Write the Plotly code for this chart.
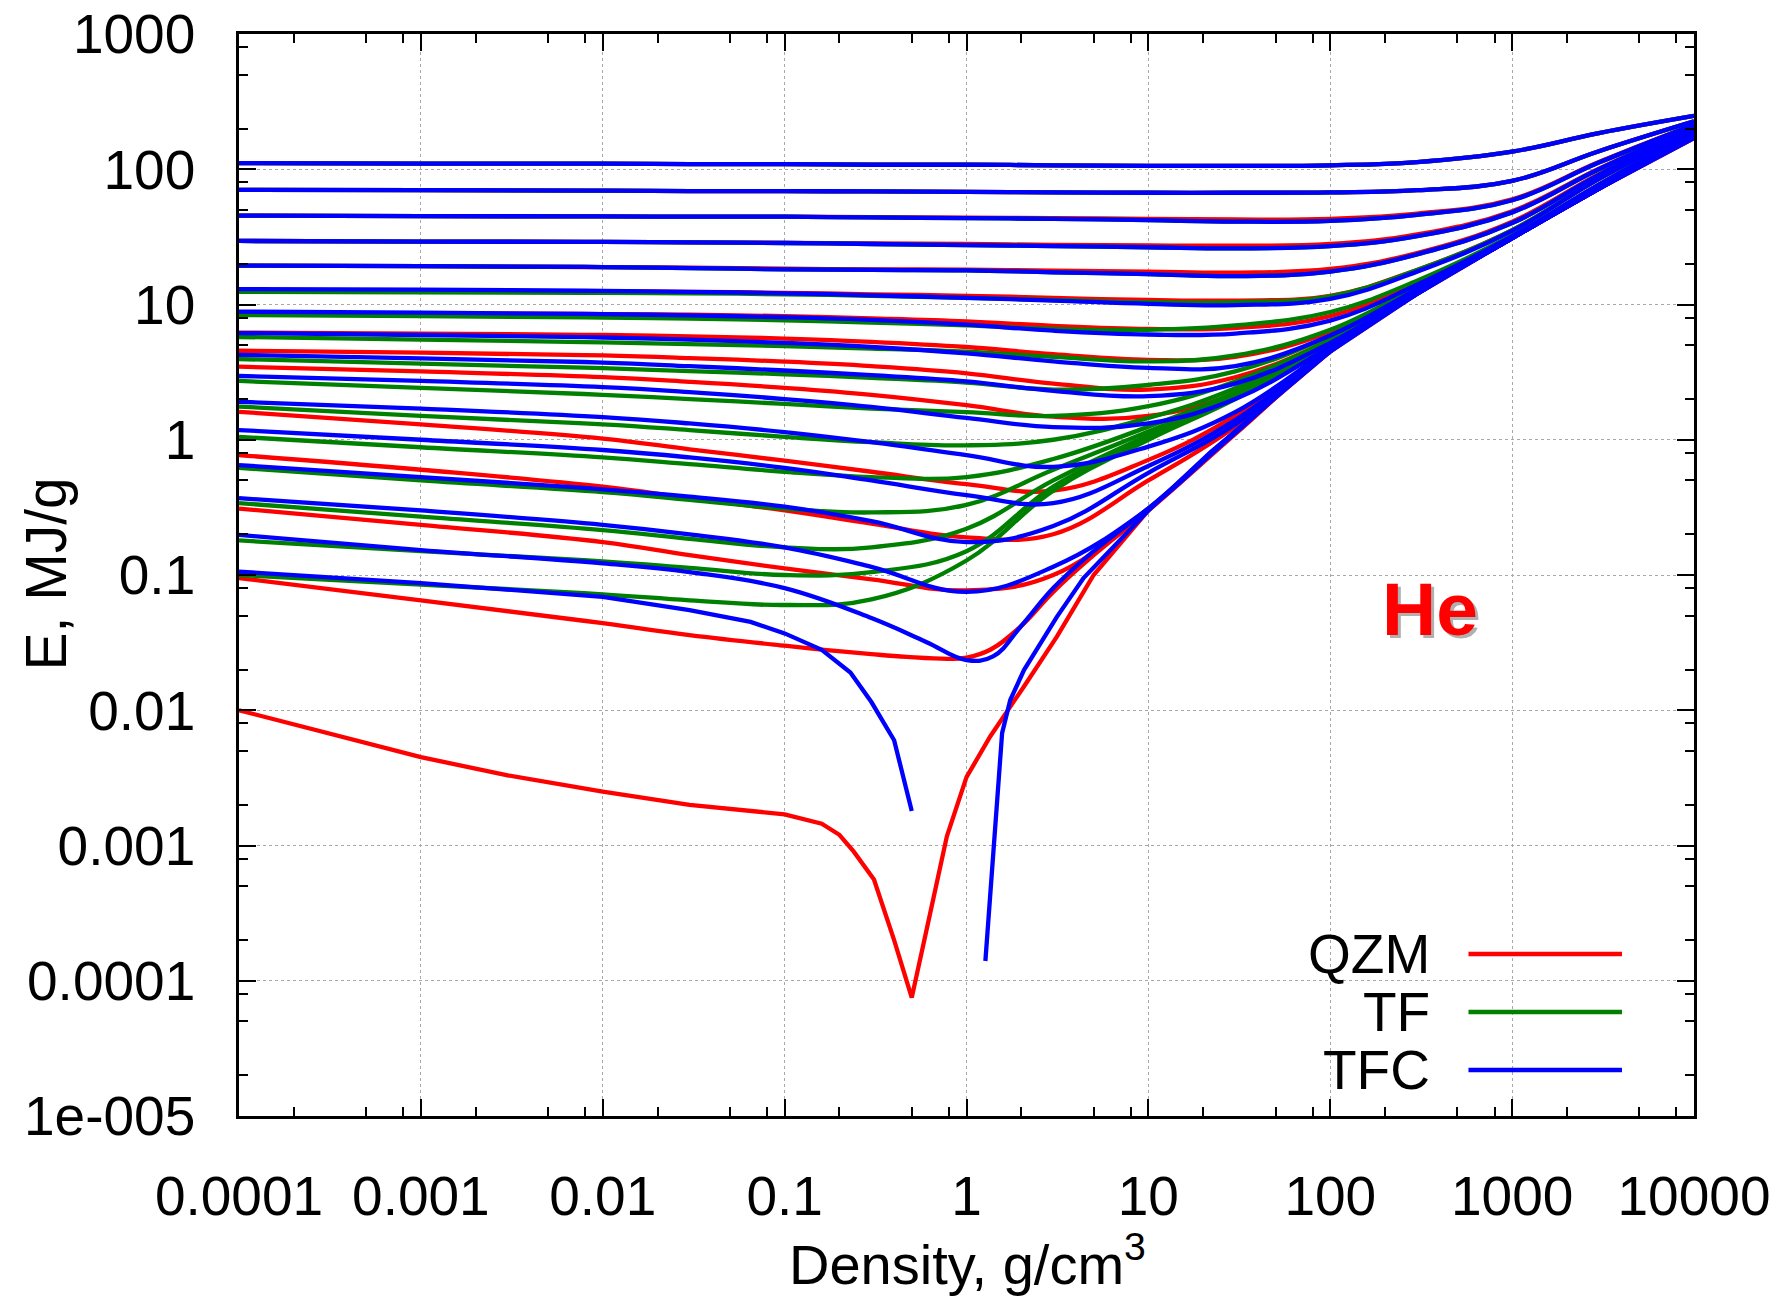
import plotly.graph_objects as go

# ---------------- data ----------------
density = [1e-4, 1e-3, 1e-2, 0.03, 0.1, 0.3, 1, 3, 10, 30, 100, 300, 1000, 3000, 1e4]

# QZM isotherms (red) on the common density grid
qzm_curves = [
    [111, 110, 110, 109, 109, 108, 108, 107, 106, 106, 107, 113, 135, 185, 248],
    [70.3, 70, 69.5, 69, 69, 68.5, 68, 67.5, 67, 67, 67.5, 70, 82, 136, 226],
    [45.4, 45, 44.8, 44.6, 44.6, 44.2, 43.8, 43.5, 43, 42.5, 43, 47, 60, 113, 214],
    [29.5, 29.2, 29, 28.8, 28.6, 28.3, 28, 27.6, 27.4, 27.2, 28, 33, 49, 101, 207],
    [19.4, 19.2, 18.9, 18.7, 18.4, 18.2, 18.1, 17.8, 17.5, 17.2, 18.3, 24, 41, 92, 201],
    [12.8, 12.7, 12.5, 12.4, 12.2, 11.9, 11.6, 11.2, 10.8, 10.7, 11.6, 18, 35.5, 85, 195],
    [8.7, 8.6, 8.5, 8.4, 8.2, 7.9, 7.5, 6.95, 6.6, 6.7, 8.2, 14.5, 32, 77, 190],
    [6.2, 6.1, 5.95, 5.82, 5.6, 5.3, 4.85, 4.3, 3.9, 4.1, 6.3, 13.5, 31.5, 75, 186],
    [4.55, 4.4, 4.2, 4.02, 3.78, 3.5, 3.1, 2.6, 2.35, 2.9, 5.5, 13, 31, 74, 183],
    [3.47, 3.2, 2.9, 2.68, 2.42, 2.15, 1.8, 1.48, 1.5, 2.2, 5.0, 12.6, 31, 73, 180],
    [1.61, 1.3, 1.02, 0.85, 0.7, 0.58, 0.47, 0.42, 0.71, 1.5, 4.7, 12.3, 31, 72, 177],
    [0.77, 0.6, 0.45, 0.37, 0.3, 0.24, 0.19, 0.2, 0.5, 1.25, 4.6, 12.1, 31, 72, 174],
    [0.31, 0.235, 0.175, 0.14, 0.112, 0.093, 0.077, 0.1, 0.31, 1.13, 4.5, 12, 31, 72, 172],
]
qzm_low_density = [1e-4, 1e-3, 1e-2, 0.03, 0.1, 0.165, 0.3, 0.47, 0.8, 1.0, 1.35, 2, 3, 5, 10,
                   30, 100, 300, 1000, 3000, 1e4]
qzm_low = [0.095, 0.065, 0.044, 0.036, 0.03, 0.028, 0.026, 0.0248, 0.024, 0.0245, 0.028,
           0.042, 0.075, 0.14, 0.3, 1.1, 4.5, 12, 31, 72, 171]
qzm_cold_density = [1e-4, 3e-4, 1e-3, 3e-3, 1e-2, 0.03, 0.1, 0.16, 0.2, 0.24, 0.31, 0.4, 0.5,
                    0.6, 0.78, 1.0, 1.35, 2.07, 3.14, 5, 10, 22, 100, 300, 1000, 3000, 1e4]
qzm_cold = [0.01, 0.0068, 0.0045, 0.0033, 0.0025, 0.002, 0.0017, 0.00145, 0.0012, 0.0009,
            0.00056, 0.0002, 7.5e-5, 2.3e-4, 0.00117, 0.0032, 0.0064, 0.015, 0.035, 0.1,
            0.3, 0.8, 4.5, 12, 31, 72, 170]

# TF isotherms (green)
tf_curves = [
    [111, 110, 110, 109, 109, 108, 108, 107, 106, 106, 107, 113, 135, 185, 248],
    [70.3, 70, 69.5, 69, 69, 68.5, 68, 67.5, 67, 67, 67.5, 70, 82, 136, 226],
    [45.4, 45, 44.8, 44.6, 44.6, 44, 43.5, 43, 42, 41, 41.5, 46, 59, 112, 213],
    [29.5, 29.2, 29, 28.8, 28.5, 28, 27.5, 27, 26.5, 26, 27, 32, 48, 100, 206],
    [19.4, 19.2, 18.9, 18.6, 18.2, 18, 17.9, 17.3, 16.8, 16.2, 17.5, 23.5, 40, 91, 200],
    [12.4, 12.3, 12.2, 12.1, 11.9, 11.6, 11.2, 10.8, 10.4, 10.4, 11.5, 18, 35.5, 85, 195],
    [8.36, 8.2, 8.0, 7.85, 7.65, 7.35, 7.0, 6.6, 6.5, 7.0, 8.8, 15, 32.5, 77, 190],
    [5.75, 5.5, 5.25, 5.1, 4.92, 4.72, 4.48, 4.1, 3.8, 4.2, 6.5, 13.5, 32, 75, 186],
    [3.95, 3.65, 3.38, 3.22, 3.05, 2.87, 2.65, 2.35, 2.54, 3.2, 5.9, 13.2, 31.5, 74, 183],
    [2.72, 2.42, 2.15, 2.0, 1.84, 1.7, 1.6, 1.5, 1.77, 2.7, 5.5, 12.9, 31.5, 73, 181],
    [1.76, 1.5, 1.3, 1.18, 1.05, 0.96, 0.91, 1.0, 1.45, 2.4, 5.3, 12.7, 31.5, 73, 179],
    [1.05, 0.88, 0.74, 0.66, 0.58, 0.53, 0.53, 0.72, 1.25, 2.25, 5.2, 12.6, 31.5, 73, 178],
    [0.62, 0.5, 0.41, 0.36, 0.31, 0.29, 0.33, 0.6, 1.15, 2.15, 5.1, 12.5, 31.5, 73, 177],
    [0.34, 0.27, 0.215, 0.185, 0.16, 0.16, 0.22, 0.5, 1.08, 2.1, 5.05, 12.5, 31.5, 73, 176],
    [0.18, 0.15, 0.126, 0.113, 0.1, 0.105, 0.15, 0.45, 1.03, 2.05, 5.0, 12.5, 31.5, 73, 175],
    [0.1, 0.085, 0.072, 0.065, 0.06, 0.066, 0.128, 0.42, 1.0, 2.0, 5.0, 12.5, 31.5, 73, 175],
]

# TFC isotherms (blue)
tfc_curves = [
    [111, 110, 110, 109, 109, 108, 108, 107, 106, 106, 107, 113, 135, 185, 248],
    [70.3, 70, 69.5, 69, 69, 68.5, 68, 67.5, 67, 67, 67.5, 70, 82, 136, 226],
    [45.4, 45, 44.8, 44.6, 44.6, 44, 43.5, 43, 42, 41, 41.5, 46, 59, 112, 213],
    [29.5, 29.2, 29, 28.8, 28.5, 28, 27.5, 27, 26.5, 26, 27, 32, 48, 100, 206],
    [19.4, 19.2, 18.9, 18.6, 18.2, 18, 17.9, 17.3, 16.8, 16.2, 17.5, 23.5, 40, 91, 200],
    [13.0, 12.9, 12.6, 12.4, 12.1, 11.7, 11.2, 10.7, 10.1, 9.9, 11, 17.5, 35, 85, 195],
    [8.85, 8.7, 8.5, 8.3, 8.05, 7.7, 7.1, 6.4, 6.0, 6.1, 7.6, 14, 32, 77, 190],
    [6.15, 5.95, 5.7, 5.5, 5.2, 4.85, 4.35, 3.8, 3.4, 3.5, 5.9, 13, 31.5, 74, 186],
    [4.24, 4.0, 3.72, 3.5, 3.25, 3.0, 2.7, 2.3, 2.1, 2.6, 5.2, 12.6, 31, 73, 183],
    [2.96, 2.72, 2.45, 2.25, 2.0, 1.75, 1.45, 1.24, 1.32, 2.0, 4.9, 12.3, 31, 72.5, 180],
    [1.91, 1.7, 1.47, 1.32, 1.14, 0.96, 0.77, 0.63, 0.89, 1.6, 4.7, 12.2, 31, 72, 178],
    [1.18, 1.0, 0.84, 0.74, 0.62, 0.5, 0.39, 0.34, 0.64, 1.4, 4.6, 12.1, 31, 72, 176],
    [0.65, 0.53, 0.43, 0.38, 0.32, 0.25, 0.175, 0.23, 0.57, 1.3, 4.55, 12, 31, 72, 174],
    [0.37, 0.3, 0.235, 0.2, 0.16, 0.115, 0.075, 0.115, 0.31, 1.15, 4.5, 12, 31, 72, 173],
]
tfc_b15_density = [1e-4, 1e-3, 1e-2, 0.03, 0.1, 0.3, 0.6, 1, 1.4, 2, 3, 5, 10, 30, 100, 300,
                   1000, 3000, 1e4]
tfc_b15 = [0.198, 0.153, 0.122, 0.105, 0.08, 0.048, 0.032, 0.0235, 0.025, 0.042, 0.08, 0.15,
           0.31, 1.12, 4.5, 12, 31, 72, 172]
tfc_cold_a_density = [1e-4, 1e-3, 1e-2, 0.03, 0.065, 0.1, 0.16, 0.23, 0.3, 0.4, 0.5]
tfc_cold_a = [0.106, 0.087, 0.069, 0.055, 0.045, 0.037, 0.028, 0.019, 0.0115, 0.006, 0.0018]
tfc_cold_b_density = [1.27, 1.42, 1.57, 1.74, 2.07, 3.14, 4.4, 10, 22, 100, 300, 1000, 3000, 1e4]
tfc_cold_b = [1.4e-4, 1.05e-3, 0.0068, 0.0119, 0.0198, 0.049, 0.095, 0.3, 0.81, 4.5, 12, 31,
              72, 170]

x_tickvals = [1e-4, 1e-3, 1e-2, 0.1, 1, 10, 100, 1000, 1e4]
x_ticktext = ["0.0001", "0.001", "0.01", "0.1", "1", "10", "100", "1000", "10000"]
y_tickvals = [1e-5, 1e-4, 1e-3, 1e-2, 0.1, 1, 10, 100, 1000]
y_ticktext = ["1e-005", "0.0001", "0.001", "0.01", "0.1", "1", "10", "100", "1000"]
legend_names = ["QZM", "TF", "TFC"]

# ---------------- style ----------------
RED, GREEN, BLUE = "#ff0000", "#008000", "#0000ff"
LW = 4.3
FONT = "Liberation Sans, Arial, Helvetica, sans-serif"

fig = go.Figure()


def add(x, y, color, shape="spline"):
    line = dict(color=color, width=LW, shape=shape)
    if shape == "spline":
        line["smoothing"] = 1.15
    fig.add_trace(go.Scatter(x=x, y=y, mode="lines", line=line, showlegend=False,
                             hoverinfo="skip"))


for c in qzm_curves:
    add(density, c, RED)
add(qzm_low_density, qzm_low, RED)
add(qzm_cold_density, qzm_cold, RED, "linear")

for c in tf_curves:
    add(density, c, GREEN)

for c in tfc_curves:
    add(density, c, BLUE)
add(tfc_b15_density, tfc_b15, BLUE)
add(tfc_cold_a_density, tfc_cold_a, BLUE, "linear")
add(tfc_cold_b_density, tfc_cold_b, BLUE, "linear")

minor_x = [m * 10 ** e for e in range(-4, 4) for m in (2, 5, 8)]
minor_y = [m * 10 ** e for e in range(-5, 3) for m in (2, 5, 8)]

axis_common = dict(
    type="log", showline=True, linecolor="black", linewidth=2.5, mirror="allticks",
    ticks="inside", ticklen=17, tickwidth=2, tickcolor="black", automargin=False,
    showgrid=True, gridcolor="#a8a8a8", gridwidth=1.2, griddash="dot",
    zeroline=False, tickfont=dict(family=FONT, size=55, color="black"),
)

fig.update_xaxes(range=[-4, 4], tickvals=x_tickvals, ticktext=x_ticktext,
                 ticklabelstandoff=30,
                 minor=dict(tickvals=minor_x, ticks="inside", ticklen=9, tickwidth=1.8,
                            tickcolor="black", showgrid=False),
                 **axis_common)
fig.update_yaxes(range=[-5, 3], tickvals=y_tickvals, ticktext=y_ticktext,
                 ticklabelstandoff=30,
                 minor=dict(tickvals=minor_y, ticks="inside", ticklen=9, tickwidth=1.8,
                            tickcolor="black", showgrid=False),
                 **axis_common)

annotations = [
    dict(text="Density, g/cm<sup>3</sup>", xref="paper", yref="paper", x=0.501, y=-0.134,
         xanchor="center", yanchor="middle", showarrow=False,
         font=dict(family=FONT, size=56, color="black")),
    dict(text="E, MJ/g", xref="paper", yref="paper", x=-0.133, y=0.501, textangle=-90,
         xanchor="center", yanchor="middle", showarrow=False,
         font=dict(family=FONT, size=57, color="black")),
    dict(text="<b>He</b>", xref="paper", yref="paper", x=0.8186, y=0.4686,
         xanchor="center", yanchor="middle", showarrow=False, xshift=3, yshift=-3,
         font=dict(family=FONT, size=75, color="#b0b0b0")),
    dict(text="<b>He</b>", xref="paper", yref="paper", x=0.8186, y=0.4686,
         xanchor="center", yanchor="middle", showarrow=False,
         font=dict(family=FONT, size=75, color=RED)),
]
shapes = []
legend_rows = [0.1497, 0.0961, 0.0425]
for name, col, yy in zip(legend_names, [RED, GREEN, BLUE], legend_rows):
    annotations.append(dict(text=name, xref="paper", yref="paper", x=0.820, y=yy,
                            xanchor="right", yanchor="middle", showarrow=False,
                            font=dict(family=FONT, size=55, color="black")))
    shapes.append(dict(type="line", xref="paper", yref="paper", x0=0.845, x1=0.9505,
                       y0=yy, y1=yy, line=dict(color=col, width=LW)))

fig.update_layout(
    width=1785, height=1298,
    margin=dict(l=239, r=91, t=34, b=182),
    plot_bgcolor="white", paper_bgcolor="white",
    annotations=annotations, shapes=shapes, showlegend=False,
)

fig.write_html("out.html")
